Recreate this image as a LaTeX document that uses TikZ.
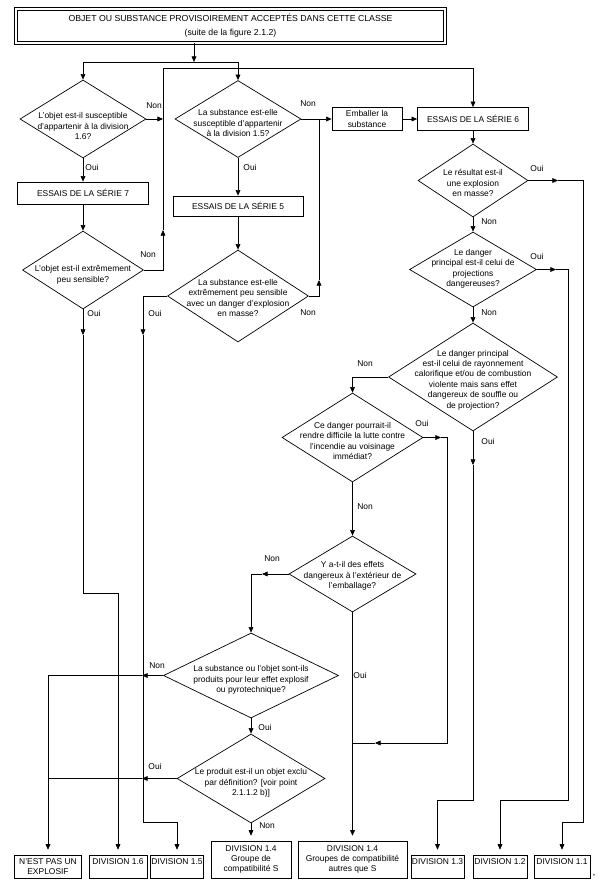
\documentclass[tikz,border=0pt]{standalone}
\usepackage{fontspec}
\setmainfont{Liberation Sans}
\usetikzlibrary{arrows.meta,shapes.geometric}
\newcommand\pxu{0.025cm}

\begin{document}
\begin{tikzpicture}[x=0.025cm, y=-0.025cm, >={Triangle[length=4pt,width=3.4pt]}, line width=0.5pt,
    texte/.style={font=\fontsize{6}{7.4}\selectfont, align=center, inner sep=0pt},
    boite/.style={draw, texte},
    losange/.style={draw, diamond, inner sep=0pt},
    etiq/.style={font=\fontsize{6}{7.4}\selectfont, inner sep=0pt},
    bas/.style={->, shorten >=3.5pt}]
    \useasboundingbox (0,0) rectangle (599,888);

    % titre
    \node[draw, double, double distance=1.6pt, texte, font=\fontsize{6.2}{10}\selectfont,
          minimum width=429*\pxu, minimum height=34*\pxu] (titre) at (230.5,26)
          {OBJET OU SUBSTANCE PROVISOIREMENT ACCEPTÉS DANS CETTE CLASSE\\(suite de la figure 2.1.2)};

    % losanges et leurs textes
    \node[losange, minimum width=126*\pxu, minimum height=78*\pxu] (d1) at (83,119) {};
    \node[texte] (t1) at (83,126) {L'objet est-il susceptible\\d'appartenir à la division\\1.6?};
    \node[losange, minimum width=126*\pxu, minimum height=77*\pxu] (d2) at (238,119) {};
    \node[texte] (t2) at (238,123) {La substance est-elle\\susceptible d'appartenir\\à la division 1.5?};
    \node[losange, minimum width=121*\pxu, minimum height=78*\pxu] (d3) at (83,270) {};
    \node[texte] (t3) at (83,275) {L'objet est-il extrêmement\\peu sensible?};
    \node[losange, minimum width=141*\pxu, minimum height=92*\pxu] (d4) at (238,296) {};
    \node[texte] (t4) at (238,298) {La substance est-elle\\extrêmement peu sensible\\avec un danger d'explosion\\en masse?};
    \node[losange, minimum width=110*\pxu, minimum height=73*\pxu] (d5) at (473,180.5) {};
    \node[texte] (t5) at (473,183) {Le résultat est-il\\une explosion\\en masse?};
    \node[losange, minimum width=127*\pxu, minimum height=75*\pxu] (d6) at (473,269.5) {};
    \node[texte] (t6) at (473,269) {Le danger\\principal est-il celui de\\projections\\dangereuses?};
    \node[losange, minimum width=169*\pxu, minimum height=108*\pxu] (d7) at (473,377) {};
    \node[texte] (t7) at (473,380) {Le danger principal\\est-il celui de rayonnement\\calorifique et/ou de combustion\\violente mais sans effet\\dangereux de souffle ou\\de projection?};
    \node[losange, minimum width=141*\pxu, minimum height=89*\pxu] (d8) at (352.5,437.5) {};
    \node[texte] (t8) at (352.5,441) {Ce danger pourrait-il\\rendre difficile la lutte contre\\l'incendie au voisinage\\immédiat?};
    \node[losange, minimum width=127*\pxu, minimum height=76*\pxu] (d9) at (352.5,574) {};
    \node[texte] (t9) at (352.5,576) {Y a-t-il des effets\\dangereux à l'extérieur de\\l'emballage?};
    \node[losange, minimum width=175*\pxu, minimum height=85*\pxu] (d10) at (251,675.5) {};
    \node[texte] (t10) at (251,680) {La substance ou l'objet sont-ils\\produits pour leur effet explosif\\ou pyrotechnique?};
    \node[losange, minimum width=148*\pxu, minimum height=89*\pxu] (d11) at (251,778.5) {};
    \node[texte] (t11) at (251,783) {Le produit est-il un objet exclu\\par définition? [voir point\\2.1.1.2 b)]};

    % boites
    \node[boite, minimum width=131*\pxu, minimum height=22*\pxu] (s7) at (83,193) {ESSAIS DE LA SÉRIE 7};
    \node[boite, minimum width=130*\pxu, minimum height=20*\pxu] (s5) at (238,206) {ESSAIS DE LA SÉRIE 5};
    \node[boite, minimum width=70*\pxu, minimum height=23*\pxu] (emb) at (367,119) {Emballer la\\substance};
    \node[boite, minimum width=111*\pxu, minimum height=23*\pxu] (s6) at (473,119) {ESSAIS DE LA SÉRIE 6};

    % boites du bas
    \node[boite, minimum width=67*\pxu, minimum height=23*\pxu] (nep) at (48,866.5) {N'EST PAS UN\\EXPLOSIF};
    \node[boite, minimum width=58*\pxu, minimum height=23*\pxu] (dv16) at (118,866.5) {DIVISION 1.6\\\phantom{X}};
    \node[boite, minimum width=53*\pxu, minimum height=23*\pxu] (dv15) at (177,866.5) {DIVISION 1.5\\\phantom{X}};
    \node[boite, minimum width=80*\pxu, minimum height=37*\pxu] (dv14s) at (251,859.5) {DIVISION 1.4\\Groupe de\\compatibilité S};
    \node[boite, minimum width=109*\pxu, minimum height=37*\pxu] (dv14a) at (352.5,859.5) {DIVISION 1.4\\Groupes de compatibilité\\autres que S};
    \node[boite, minimum width=53*\pxu, minimum height=23*\pxu] (dv13) at (437.5,866.5) {DIVISION 1.3\\\phantom{X}};
    \node[boite, minimum width=54*\pxu, minimum height=23*\pxu] (dv12) at (500,866.5) {DIVISION 1.2\\\phantom{X}};
    \node[boite, minimum width=56*\pxu, minimum height=23*\pxu] (dv11) at (562,866.5) {DIVISION 1.1\\\phantom{X}};
    \node[font=\fontsize{3.5}{4}\selectfont, inner sep=0pt] (marque) at (594,875) {»};

    % points de passage
    \coordinate (haut) at (194,62);
    \coordinate (boucle) at (163,68);
    \coordinate (coin3) at (163,270);
    \coordinate (j4) at (319,119);
    \coordinate (j8) at (352.5,743);

    % liaisons du haut
    \draw[->] (titre.south -| haut) -- (haut);
    \draw[->] (haut) -| (d1.north);
    \draw[->] (haut) -| (d2.north);
    \draw[->] (d1.east) -- (d1.east -| boucle);
    \draw[->] (d1.south) -- (s7.north);
    \draw[->] (s7.south) -- (d3.north);
    \draw[->] (d3.east) -- (coin3) -- (163,230);
    \draw[->] (163,230) -- (boucle) -| (s6.north);
    \draw[->] (d3.south) -- (83,335);
    \draw[bas] (83,335) -- (83,593) -| (dv16.north);

    \draw[->] (d2.south) -- (s5.north);
    \draw[->] (d2.east) -- (emb.west);
    \draw[->] (emb.east) -- (s6.west);
    \draw[->] (s5.south) -- (d4.north);
    \draw[->] (d4.east) -| (319,280);
    \draw (319,280) -- (j4);
    \draw[->] (d4.west) -| (143,335);
    \draw[bas] (143,335) -- (143,822) -| (dv15.north);

    % colonne de droite
    \draw[->] (s6.south) -- (d5.north);
    \draw[->] (d5.east) -- (558,180.5);
    \draw[bas] (558,180.5) -| (583,822) -| (dv11.north);
    \draw[->] (d5.south) -- (d6.north);
    \draw[->] (d6.east) -- (556,269.5);
    \draw[bas] (556,269.5) -| (568,800) -| (dv12.north);
    \draw[->] (d6.south) -- (d7.north);
    \draw[->] (d7.west) -| (d8.north);
    \draw[->] (d7.south) -- (473,465);
    \draw[bas] (473,465) -- (473,800) -| (dv13.north);

    % partie centrale
    \draw[->] (d8.east) -- (441,437.5);
    \draw[->] (441,437.5) -| (447,743) -- (375,743);
    \draw (375,743) -- (j8);
    \draw[->] (d8.south) -- (d9.north);
    \draw[->] (d9.west) -- (262,574);
    \draw[->] (262,574) -| (d10.north);
    \draw[bas] (d9.south) -- (dv14a.north);
    \draw[->] (d10.west) -- (142,675.5);
    \draw[bas] (142,675.5) -| (nep.north);
    \draw[->] (d10.south) -- (d11.north);
    \draw[->] (d11.west) -- (142,778.5);
    \draw (142,778.5) -- (nep.north |- d11.west);
    \draw[bas] (d11.south) -- (dv14s.north);

    % etiquettes Oui / Non
    \node[etiq] (l1n) at (154,106) {Non};
    \node[etiq] (l1o) at (92,167) {Oui};
    \node[etiq] (l2n) at (308,104) {Non};
    \node[etiq] (l2o) at (250,167) {Oui};
    \node[etiq] (l3n) at (148,255) {Non};
    \node[etiq] (l3o) at (94,313) {Oui};
    \node[etiq] (l4o) at (155,313) {Oui};
    \node[etiq] (l4n) at (308,313) {Non};
    \node[etiq] (l5o) at (537,168) {Oui};
    \node[etiq] (l5n) at (489,222) {Non};
    \node[etiq] (l6o) at (537,256) {Oui};
    \node[etiq] (l6n) at (489,313) {Non};
    \node[etiq] (l7n) at (365,364) {Non};
    \node[etiq] (l7o) at (488,441) {Oui};
    \node[etiq] (l8o) at (422,423) {Oui};
    \node[etiq] (l8n) at (365,507) {Non};
    \node[etiq] (l9n) at (272,559) {Non};
    \node[etiq] (l9o) at (360,675) {Oui};
    \node[etiq] (l10n) at (157,666) {Non};
    \node[etiq] (l10o) at (265,727) {Oui};
    \node[etiq] (l11o) at (155,766) {Oui};
    \node[etiq] (l11n) at (267,826) {Non};
\end{tikzpicture}
\end{document}
